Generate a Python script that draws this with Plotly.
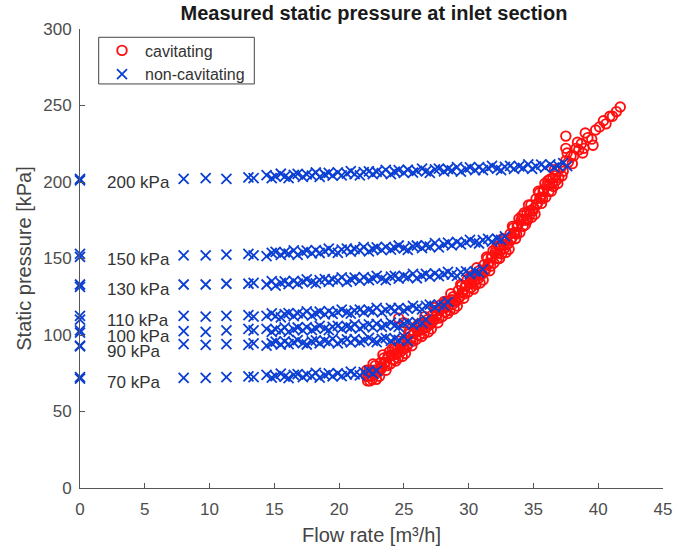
import plotly.graph_objects as go

# ---------------- data ----------------
# Low-flow (sparse) operating points shared by all pressure levels
flow_sparse = [0.0, 0.0, 8.0, 9.7, 11.3, 13.0, 13.4]
# Dense flow sweep (each level uses the leading part of it)
flow_dense = [14.4, 14.8, 15.1, 15.5, 15.8, 16.1, 16.5, 16.8, 17.2, 17.5,
              17.9, 18.2, 18.5, 18.9, 19.2, 19.5, 19.9, 20.2, 20.6, 20.9,
              21.2, 21.6, 21.9, 22.3, 22.6, 22.9, 23.3, 23.6, 24.0, 24.3,
              24.6, 25.0, 25.3, 25.7, 26.0, 26.4, 26.7, 27.0, 27.4, 27.7,
              28.1, 28.4, 28.7, 29.1, 29.4, 29.8, 30.1, 30.5, 30.8, 31.1,
              31.5, 31.8, 32.2, 32.5, 32.8, 33.2, 33.5, 33.9, 34.2, 34.6,
              34.9, 35.2, 35.6, 35.9, 36.3, 36.6, 36.9, 37.3, 37.6]

p200_sparse = [201.0, 202.0, 202.0, 202.5, 202.0, 203.0, 202.5]
p200_dense = [204.5, 202.6, 203.7, 205.4, 203.5, 202.5, 204.7, 205.3, 203.4, 205.0,
              204.1, 206.2, 203.3, 204.9, 206.0, 204.1, 206.3, 204.4, 205.5, 207.1,
              205.2, 204.3, 206.4, 207.0, 205.1, 206.7, 205.8, 207.9, 205.1, 206.7,
              207.8, 205.9, 208.0, 206.1, 207.2, 208.8, 206.9, 206.0, 208.2, 208.8,
              206.9, 208.5, 207.6, 209.7, 206.8, 208.4, 209.5, 207.7, 209.7, 207.8,
              209.0, 210.5, 208.7, 207.8, 209.9, 210.5, 208.6, 210.2, 209.3, 211.5,
              208.6, 210.2, 211.3, 209.4, 211.5, 209.6, 210.7, 212.3, 210.4]

p150_sparse = [151.0, 153.0, 152.0, 152.0, 152.5, 153.0, 152.0]
p150_dense = [151.5, 153.7, 154.3, 152.4, 154.0, 153.2, 155.3, 152.4, 154.1, 155.2,
              153.4, 155.5, 153.6, 154.8, 156.4, 154.5, 153.7, 155.8, 156.4, 154.5,
              156.2, 155.3, 157.4, 154.6, 156.2, 157.3, 155.5, 157.6, 155.8, 156.9,
              158.5, 156.6, 155.7, 157.9, 158.5, 156.8, 158.6, 157.8, 160.1, 157.3,
              159.2, 160.4, 158.6, 160.9, 159.2, 160.5, 162.2, 160.5, 159.8, 162.0,
              162.8, 161.1, 162.9, 162.2, 164.4]

p130_sparse = [131.5, 133.0, 133.0, 133.0, 133.5, 133.5, 134.0]
p130_dense = [133.0, 135.2, 132.3, 134.0, 135.1, 133.3, 135.4, 133.6, 134.8, 136.4,
              134.6, 133.7, 135.8, 136.5, 134.7, 136.3, 135.5, 137.6, 134.7, 136.4,
              137.5, 135.6, 137.8, 135.9, 137.0, 138.7, 136.8, 135.9, 138.1, 138.7,
              136.8, 138.5, 137.7, 139.9, 137.1, 138.8, 139.9, 138.1, 140.3, 138.5,
              139.7, 141.3, 139.5, 138.7, 140.9, 141.6, 139.7, 141.5, 140.7, 142.9]

p110_sparse = [110.0, 112.5, 112.5, 112.0, 112.5, 113.0, 112.0]
p110_dense = [112.5, 114.2, 112.3, 111.5, 113.6, 114.3, 112.4, 114.1, 113.3, 115.4,
              112.6, 114.2, 115.3, 113.5, 115.6, 113.8, 115.0, 116.6, 114.7, 113.9,
              116.0, 116.6, 114.8, 116.4, 115.5, 117.7, 114.8, 116.4, 117.6, 115.7,
              117.8, 116.0, 117.3, 119.1, 117.4, 116.7, 119.0, 119.8, 118.1, 119.9,
              119.3, 121.6]

p100_sparse = [101.5, 103.0, 102.5, 102.0, 103.0, 104.0, 103.0]
p100_dense = [104.0, 102.1, 103.7, 102.9, 105.0, 102.1, 103.7, 104.9, 103.0, 105.1,
              103.2, 104.4, 106.0, 104.1, 103.2, 105.3, 106.0, 104.1, 105.7, 104.9,
              107.0, 104.1, 105.8, 106.9, 105.0, 107.2, 105.3, 106.4, 108.1, 106.2,
              105.3, 107.5, 108.3, 106.6, 108.4, 107.7, 110.0]

p90_sparse = [92.5, 93.0, 94.0, 93.5, 94.0, 93.5, 94.5]
p90_dense = [93.0, 94.6, 95.7, 93.8, 95.9, 94.0, 95.1, 96.6, 94.7, 93.8,
             95.9, 96.5, 94.6, 96.2, 95.3, 97.4, 94.5, 96.1, 97.2, 95.2,
             97.3, 95.4, 96.5, 98.1, 96.2, 95.3, 97.4, 98.0, 96.1, 97.7,
             96.8, 98.9, 96.0]

p70_sparse = [71.5, 72.5, 72.0, 72.0, 72.5, 73.0, 72.5]
p70_dense = [74.0, 72.1, 73.1, 74.7, 72.8, 71.8, 73.9, 74.4, 72.5, 74.1,
             73.1, 75.2, 72.2, 73.8, 74.9, 72.9, 75.0, 73.1, 74.3, 76.0,
             74.3, 73.6, 75.8, 76.6, 74.8, 76.5]

# Cavitating points
cav_flow = [22.1, 22.2, 22.3, 22.45, 22.55, 22.7, 22.8, 22.95,
            23.05, 23.2, 23.3, 23.45, 23.55, 23.7, 23.8, 23.95,
            24.05, 24.2, 24.3, 24.45, 24.55, 24.7, 24.8, 24.95,
            25.05, 25.2, 25.3, 25.45, 25.55, 25.7, 25.8, 25.95,
            26.05, 26.2, 26.3, 26.45, 26.55, 26.7, 26.8, 26.95,
            27.05, 27.2, 27.3, 27.45, 27.55, 27.7, 27.8, 27.95,
            28.05, 28.2, 28.3, 28.45, 28.55, 28.7, 28.8, 28.95,
            29.05, 29.2, 29.3, 29.45, 29.55, 29.7, 29.8, 29.95,
            30.05, 30.2, 30.3, 30.45, 30.55, 30.7, 30.8, 30.95,
            31.05, 31.2, 31.3, 31.45, 31.55, 31.7, 31.8, 31.95,
            32.05, 32.2, 32.3, 32.45, 32.55, 32.7, 32.8, 32.95,
            33.05, 33.2, 33.3, 33.45, 33.55, 33.7, 33.8, 33.95,
            34.05, 34.2, 34.3, 34.45, 34.55, 34.7, 34.8, 34.95,
            35.05, 35.2, 35.3, 35.45, 35.55, 35.7, 35.8, 35.95,
            36.05, 36.2, 36.3, 36.45, 36.55, 36.7, 36.8, 36.95,
            37.1, 37.3, 37.5, 37.7, 37.9, 37.5, 37.5,
            38.1, 38.3, 38.5, 38.7, 38.9,
            39.2, 39.5, 39.8,
            40.1, 40.4, 40.6, 40.9,
            41.1, 41.4, 41.7,
            24.6, 25.0,
            22.12, 22.38, 22.62, 22.88, 23.12, 23.38, 23.62, 23.88,
            24.12, 24.38, 24.62, 24.88, 25.12, 25.38, 25.62, 25.88,
            26.12, 26.38, 26.62, 26.88, 27.12, 27.38, 27.62, 27.88,
            28.12, 28.38, 28.62, 28.88, 29.12, 29.38, 29.62, 29.88,
            30.12, 30.38, 30.62, 30.88, 31.12, 31.38, 31.62, 31.88,
            32.12, 32.38, 32.62, 32.88, 33.12, 33.38, 33.62, 33.88,
            34.12, 34.38, 34.62, 34.88, 35.12, 35.38, 35.62, 35.88,
            36.12, 36.38, 36.62, 36.88,
            37.2, 37.6, 38.0, 38.4, 38.8, 39.0, 39.6,
            22.25, 22.5, 22.75, 23.25, 23.5, 23.75, 24.25, 24.5, 24.75,
            25.25, 25.5, 25.75, 26.25, 26.5, 26.75, 27.25, 27.5, 27.75,
            28.25, 28.5, 28.75, 29.25, 29.5, 29.75, 30.25, 30.5, 30.75,
            31.25, 31.5, 31.75, 32.25, 32.5, 32.75, 33.25, 33.5, 33.75,
            34.25, 34.5, 34.75, 35.25, 35.5, 35.75, 36.25, 36.5, 36.75]
cav_pressure = [73, 70, 77, 73, 71, 77, 80, 76,
                76, 82, 79, 85, 82, 80, 86, 81,
                87, 84, 91, 88, 85, 92, 94, 91,
                91, 98, 94, 101, 97, 96, 101, 97,
                103, 100, 107, 104, 101, 108, 110, 107,
                107, 113, 110, 116, 113, 111, 117, 112,
                118, 115, 122, 119, 116, 123, 125, 122,
                122, 129, 125, 132, 128, 127, 132, 128,
                134, 131, 139, 135, 133, 139, 142, 139,
                140, 146, 143, 150, 147, 145, 151, 147,
                154, 150, 158, 155, 153, 159, 162, 159,
                160, 166, 163, 170, 167, 166, 172, 167,
                175, 171, 180, 176, 175, 181, 185, 181,
                183, 189, 186, 193, 190, 189, 195, 190,
                198, 194, 202, 199, 197, 204, 207, 203,
                209, 207, 214, 213, 217, 230, 222,
                217, 222, 221, 225, 222,
                229, 228, 234,
                236, 240, 238, 243,
                243, 246, 249,
                111, 108,
                77, 70, 81, 71, 73, 87, 77, 89,
                91, 83, 96, 86, 88, 102, 93, 105,
                107, 99, 112, 102, 104, 118, 108, 120,
                122, 114, 127, 117, 119, 133, 124, 136,
                138, 130, 144, 134, 136, 151, 142, 155,
                157, 150, 163, 154, 156, 171, 163, 176,
                178, 172, 185, 177, 179, 194, 186, 199,
                201, 194, 208, 199,
                204, 219, 212, 226, 219, 232, 224,
                73, 76.5, 74, 78, 81.5, 85, 87, 91, 89,
                93, 97, 101, 103, 107, 105, 109, 112.5, 116,
                118, 122, 120, 124, 128, 132, 134, 138.5, 137,
                141.5, 146, 150.5, 153.5, 158, 156.5, 162, 166.5, 171,
                175, 180, 179, 185, 189.5, 194, 198, 202.5, 201]

level_labels = ["200 kPa", "150 kPa", "130 kPa", "110 kPa", "100 kPa", "90 kPa", "70 kPa"]
label_y = [199.9, 149.1, 129.6, 109.5, 98.8, 89.0, 68.7]
label_x = [1.9, 1.9, 1.9, 1.9, 1.9, 1.9, 1.9]

x_ticks = [0, 5, 10, 15, 20, 25, 30, 35, 40, 45]
y_ticks = [0, 50, 100, 150, 200, 250, 300]

# ---------------- build ----------------
levels_sparse = [p200_sparse, p150_sparse, p130_sparse, p110_sparse, p100_sparse, p90_sparse, p70_sparse]
levels_dense = [p200_dense, p150_dense, p130_dense, p110_dense, p100_dense, p90_dense, p70_dense]
nc_x, nc_y = [], []
for ps, pd_ in zip(levels_sparse, levels_dense):
    nc_x += flow_sparse + flow_dense[:len(pd_)]
    nc_y += ps + pd_

FONT = "Arial, 'Liberation Sans', Helvetica, sans-serif"
BLUE = "#0b3fd3"
RED = "#ff0f0f"
AX = "#555555"

# plot-area pixel geometry (for the legend frame)
L, R, T, B = 80, 663, 29, 488.5
W, H = R - L, B - T

fig = go.Figure()
fig.add_trace(go.Scatter(
    x=cav_flow, y=cav_pressure, mode="markers", name="cavitating",
    cliponaxis=False,
    marker=dict(symbol="circle-open", size=9.5, color=RED, line=dict(width=1.9, color=RED)),
))
fig.add_trace(go.Scatter(
    x=nc_x, y=nc_y, mode="markers", name="non-cavitating",
    cliponaxis=False,
    marker=dict(symbol="x-thin", size=10, color=BLUE, line=dict(width=1.8, color=BLUE)),
))

for t, xv, yv in zip(level_labels, label_x, label_y):
    fig.add_annotation(x=xv, y=yv, text=t, showarrow=False, xanchor="left", yanchor="middle",
                       font=dict(family=FONT, size=17, color="#333333"))

# legend frame
fig.add_shape(type="rect", xref="paper", yref="paper",
              x0=(98.7 - L) / W, x1=(254.3 - L) / W,
              y0=(B - 84) / H, y1=(B - 37.3) / H,
              line=dict(color="#444444", width=1), fillcolor="white", layer="above")

fig.update_layout(
    width=699, height=555,
    margin=dict(l=L, r=699 - R, t=T, b=555 - B),
    paper_bgcolor="white", plot_bgcolor="white",
    font=dict(family=FONT, color="#444444"),
    title=dict(text="<b>Measured static pressure at inlet section</b>",
               x=0.535, xanchor="center", y=1 - 13 / 555, yanchor="middle", yref="container",
               font=dict(family=FONT, size=20, color="#1a1a1a")),
    showlegend=True,
    legend=dict(x=(99 - L) / W, y=(B - 33.5) / H, xanchor="left", yanchor="top",
                borderwidth=0, bgcolor="rgba(0,0,0,0)",
                font=dict(family=FONT, size=16, color="#333333"),
                itemwidth=36, tracegroupgap=0),
)
fig.update_xaxes(
    range=[0, 45], tickvals=x_ticks, ticks="inside", ticklen=5, tickcolor=AX,
    showline=True, linecolor=AX, linewidth=1, showgrid=False, zeroline=False,
    tickfont=dict(family=FONT, size=17, color="#4d4d4d"),
    title=dict(text="Flow rate [m³/h]", font=dict(family=FONT, size=20, color="#444444"), standoff=9),
    ticklabelstandoff=6,
)
fig.update_yaxes(
    range=[0, 300], tickvals=y_ticks, ticks="inside", ticklen=5, tickcolor=AX,
    showline=True, linecolor=AX, linewidth=1, showgrid=False, zeroline=False,
    tickfont=dict(family=FONT, size=17, color="#4d4d4d"),
    title=dict(text="Static pressure [kPa]", font=dict(family=FONT, size=20, color="#444444"), standoff=6),
    ticklabelstandoff=4,
)

fig.write_html("out.html")
